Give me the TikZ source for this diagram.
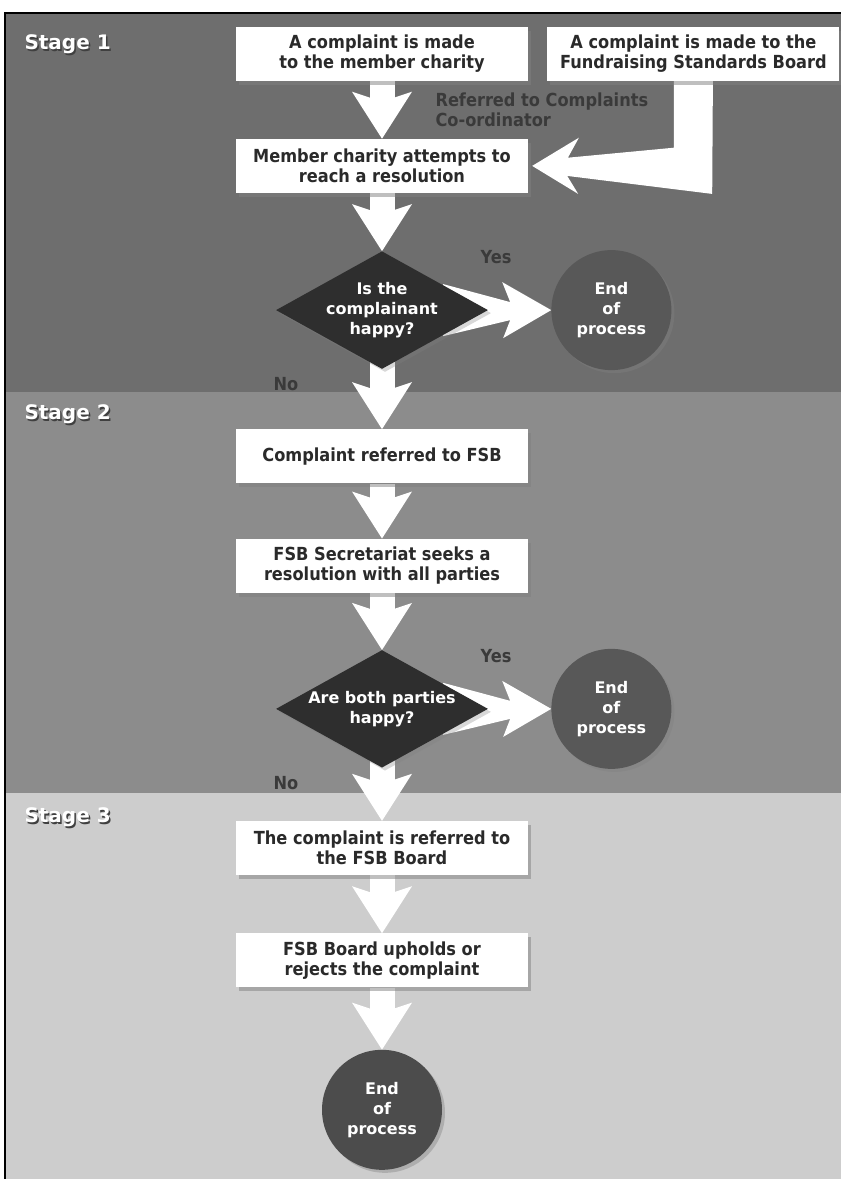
\documentclass[tikz,border=0pt]{standalone}
\usepackage{fontspec}
\setmainfont{DejaVu Sans}
\newfontfamily\boxfont[FakeStretch=0.9]{DejaVu Sans}
\usetikzlibrary{positioning,arrows.meta,shapes.geometric,shadows}

\definecolor{bandone}{HTML}{6E6E6E}
\definecolor{bandtwo}{HTML}{8C8C8C}
\definecolor{bandthree}{HTML}{CDCDCD}
\definecolor{askfill}{HTML}{2E2E2E}
\definecolor{endfill}{HTML}{585858}
\definecolor{endfilldark}{HTML}{4C4C4C}
\definecolor{boxink}{HTML}{2A2A2A}
\definecolor{noteink}{HTML}{3A3A3A}

\pgfdeclarelayer{bands}
\pgfdeclarelayer{flow}
\pgfsetlayers{bands,flow,main}

\newcommand{\stagetext}[1]{\makebox[0pt][l]{\hspace{1.5pt}\raisebox{-2pt}{\color{black!75}#1}}#1}

\begin{document}
\begin{tikzpicture}[
    x=1pt, y=1pt,
    box/.style={
        fill=white,
        align=center,
        minimum width=292pt,
        minimum height=54pt,
        inner sep=0pt,
        text=boxink,
        font=\boxfont\bfseries\fontsize{18}{20}\selectfont,
        drop shadow={shadow xshift=3pt, shadow yshift=-4pt, opacity=0.5}
    },
    ask/.style={
        diamond,
        aspect=1.8,
        fill=askfill,
        text=white,
        align=center,
        inner sep=0pt,
        minimum width=212pt,
        minimum height=117pt,
        font=\bfseries\fontsize{16}{20}\selectfont,
        drop shadow={shadow xshift=3pt, shadow yshift=-3pt, opacity=0.3}
    },
    stop/.style={
        circle,
        fill=endfill,
        text=white,
        align=center,
        inner sep=0pt,
        minimum size=120pt,
        font=\bfseries\fontsize{16}{20}\selectfont,
        drop shadow={shadow xshift=3pt, shadow yshift=-3pt, opacity=0.4}
    },
    stagelabel/.style={anchor=west, text=white, font=\bfseries\fontsize{20}{24}\selectfont},
    note/.style={text=noteink, font=\boxfont\bfseries\fontsize{18}{20}\selectfont},
    fat/.style={white, line width=25pt, -{Stealth[length=47pt, width=60pt, inset=10pt, line width=0pt]}},
    node distance=58pt and 19pt
]
\useasboundingbox (0,0) rectangle (841,-1179);

% Stage 1
\node[box] (charity) at (382,-53.5) {A complaint is made\\to the member charity};
\node[box, right=of charity] (fsb) {A complaint is made to the\\Fundraising Standards Board};
\node[box, below=of charity] (attempt) {Member charity attempts to\\reach a resolution};
\node[ask, below=of attempt] (happy) {Is the\\complainant\\happy?};
\node[stop, right=63pt of happy] (endone) {End\\of\\process};

% Stage 2
\node[box, below=60pt of happy] (referred) {Complaint referred to FSB};
\node[box, below=55pt of referred] (secretariat) {FSB Secretariat seeks a\\resolution with all parties};
\node[ask, below=57pt of secretariat] (both) {Are both parties\\happy?};
\node[stop, right=63pt of both] (endtwo) {End\\of\\process};

% Stage 3
\node[box, below=53pt of both] (board) {The complaint is referred to\\the FSB Board};
\node[box, below=58pt of board] (uphold) {FSB Board upholds or\\rejects the complaint};
\node[stop, fill=endfilldark, below=62pt of uphold] (endthree) {End\\of\\process};

% Labels
\node[stagelabel] (stageone) at (21,-45) {\stagetext{Stage 1}};
\node[stagelabel] (stagetwo) at (21,-415) {\stagetext{Stage 2}};
\node[stagelabel] (stagethree) at (21,-818) {\stagetext{Stage 3}};
\node[note, anchor=west, align=left] (coordinator) at (432,-110) {Referred to Complaints\\Co-ordinator};
\node[note] (yesone) at ([shift={(114,53)}]happy.center) {Yes};
\node[note] (noone) at ([shift={(-96,-74)}]happy.center) {No};
\node[note] (yestwo) at ([shift={(114,53)}]both.center) {Yes};
\node[note] (notwo) at ([shift={(-96,-74)}]both.center) {No};

% Bands
\begin{pgfonlayer}{bands}
\fill[bandone] (5,-13) rectangle (841,-392);
\fill[bandtwo] (5,-392) rectangle (841,-793);
\fill[bandthree] (5,-793) rectangle (841,-1179);
\draw[line width=2pt] (5,-1179) -- (5,-13) -- (841,-13);
\end{pgfonlayer}

% Flechas
\begin{pgfonlayer}{flow}
\draw[fat] (charity) -- (attempt);
\draw[fat] (attempt) -- (happy);
\draw[fat] (happy.center) -- (referred);
\draw[fat] (referred) -- (secretariat);
\draw[fat] (secretariat) -- (both);
\draw[fat] (both.center) -- (board);
\draw[fat] (board) -- (uphold);
\draw[fat] (uphold) -- (endthree);

\fill[white] ([xshift=-19.5]fsb.south) -- ++(0,-67) -- ++(-106,-10) -- ++(11,20)
    -- ([xshift=4]attempt.east) -- ++(46,-28) -- ++(-11,18) -- ++(145,-18)
    -- ([xshift=19.5]fsb.south) -- cycle;

\fill[white] ([shift={(-45,26)}]happy.east) -- ([shift={(22,8)}]happy.east)
    -- ([shift={(14,28)}]happy.east) -- (endone.west) -- ([shift={(15,-28)}]happy.east)
    -- ([shift={(22,-10)}]happy.east) -- ([shift={(-45,-26)}]happy.east) -- cycle;
\fill[white] ([shift={(-45,26)}]both.east) -- ([shift={(22,8)}]both.east)
    -- ([shift={(14,28)}]both.east) -- (endtwo.west) -- ([shift={(15,-28)}]both.east)
    -- ([shift={(22,-10)}]both.east) -- ([shift={(-45,-26)}]both.east) -- cycle;
\end{pgfonlayer}

\end{tikzpicture}
\end{document}
